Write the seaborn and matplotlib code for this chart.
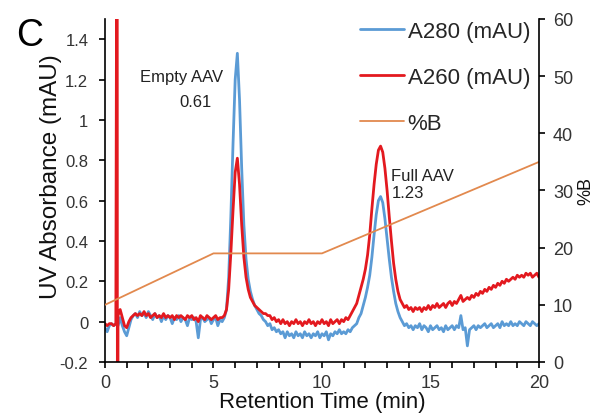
import numpy as np
import pandas as pd
import matplotlib
matplotlib.use("Agg")
import matplotlib.pyplot as plt
import seaborn as sns
from matplotlib.ticker import MultipleLocator, FixedLocator, FuncFormatter

sns.set_theme(style="ticks")
plt.rcParams["font.family"] = ["Liberation Sans", "DejaVu Sans"]

# ---- chromatogram data -------------------------------------------------
# detector samples every 0.1 min, 0 - 20 min
time_min = np.round(np.arange(0, 20.05, 0.1), 1)

a280 = [
    -0.03, -0.05, -0.02, -0.01, -0.02, -0.01, -0.02, 0.02, -0.02, -0.05,
    -0.07, -0.03, 0.01, 0.03, 0.04, 0.02, 0.05, 0.03, 0.04, 0.02,
    0.05, 0.03, 0.01, 0.04, 0.02, 0.03, 0.00, 0.03, 0.01, 0.03,
    0.02, -0.01, 0.02, 0.01, 0.03, 0.00, 0.02, 0.01, -0.02, 0.02,
    0.01, 0.02, 0.00, -0.08, 0.01, 0.02, 0.00, 0.01, 0.02, -0.01,
    0.01, 0.02, -0.02, 0.01, 0.00, 0.02, 0.06, 0.22, 0.52, 0.88,
    1.20, 1.33, 1.10, 0.76, 0.48, 0.31, 0.21, 0.15, 0.11, 0.08,
    0.06, 0.04, 0.03, 0.01, 0.00, -0.02, -0.01, -0.04, -0.03, -0.05,
    -0.04, -0.06, -0.05, -0.08, -0.05, -0.07, -0.06, -0.08, -0.05, -0.07,
    -0.06, -0.08, -0.05, -0.07, -0.06, -0.08, -0.06, -0.07, -0.05, -0.08,
    -0.06, -0.07, -0.05, -0.09, -0.06, -0.07, -0.05, -0.06, -0.04, -0.06,
    -0.05, -0.06, -0.04, -0.05, -0.03, -0.02, -0.01, 0.02, 0.04, 0.08,
    0.12, 0.17, 0.23, 0.32, 0.43, 0.53, 0.60, 0.62, 0.59, 0.51,
    0.41, 0.31, 0.22, 0.15, 0.09, 0.05, 0.02, 0.00, -0.02, -0.01,
    -0.03, -0.02, -0.04, -0.02, -0.03, -0.01, -0.04, -0.02, -0.03, -0.05,
    -0.02, -0.04, -0.03, -0.02, -0.04, -0.03, -0.05, -0.02, -0.04, -0.03,
    -0.02, -0.04, -0.02, -0.03, 0.03, -0.04, -0.03, -0.12, -0.04, -0.03,
    -0.02, -0.04, -0.02, -0.03, -0.02, -0.01, -0.03, -0.02, -0.01, -0.03,
    -0.02, -0.01, -0.03, 0.00, -0.02, -0.01, -0.02, 0.00, -0.02, -0.01,
    -0.02, 0.00, -0.01, -0.02, 0.00, -0.01, -0.02, 0.00, -0.01, -0.02,
    -0.01,
]

a260 = [
    -0.01, -0.02, -0.01, -0.01, -0.02, -0.01, 0.03, 0.06, 0.02, -0.02,
    -0.03, 0.00, 0.02, 0.03, 0.04, 0.03, 0.04, 0.03, 0.05, 0.03,
    0.04, 0.02, 0.03, 0.04, 0.02, 0.03, 0.02, 0.04, 0.02, 0.03,
    0.02, 0.03, 0.01, 0.03, 0.02, 0.03, 0.02, 0.01, 0.03, 0.02,
    0.03, 0.01, 0.02, 0.00, 0.03, 0.02, 0.01, 0.03, 0.02, 0.01,
    0.02, 0.03, 0.01, 0.02, 0.02, 0.03, 0.06, 0.16, 0.34, 0.55,
    0.74, 0.81, 0.68, 0.48, 0.32, 0.22, 0.16, 0.12, 0.10, 0.08,
    0.07, 0.06, 0.05, 0.04, 0.04, 0.03, 0.03, 0.01, 0.02, 0.00,
    0.01, -0.01, 0.01, -0.01, 0.00, -0.02, 0.00, -0.01, 0.01, -0.01,
    0.00, -0.02, 0.00, -0.01, 0.01, -0.01, 0.00, -0.02, 0.00, -0.01,
    0.01, -0.01, 0.00, -0.02, 0.01, -0.01, 0.00, 0.01, -0.01, 0.01,
    0.00, 0.02, 0.01, 0.03, 0.05, 0.07, 0.09, 0.13, 0.17, 0.21,
    0.26, 0.33, 0.43, 0.56, 0.68, 0.78, 0.85, 0.87, 0.84, 0.76,
    0.65, 0.52, 0.40, 0.29, 0.21, 0.15, 0.11, 0.09, 0.07, 0.08,
    0.06, 0.07, 0.05, 0.07, 0.06, 0.07, 0.05, 0.07, 0.06, 0.08,
    0.06, 0.08, 0.07, 0.09, 0.07, 0.08, 0.09, 0.07, 0.09, 0.10,
    0.08, 0.10, 0.09, 0.11, 0.13, 0.10, 0.11, 0.12, 0.11, 0.13,
    0.12, 0.14, 0.13, 0.15, 0.14, 0.16, 0.15, 0.17, 0.16, 0.18,
    0.17, 0.19, 0.18, 0.20, 0.19, 0.21, 0.20, 0.21, 0.22, 0.21,
    0.23, 0.22, 0.23, 0.22, 0.24, 0.23, 0.24, 0.22, 0.23, 0.24,
    0.22,
]

# injection artefact on the 260 nm channel (runs off-scale both ways)
spike_time = [0.56, 0.58]
spike_a260 = [3.0, -3.0]

# elution gradient, % buffer B
gradient_time = [0, 5, 10, 20]
gradient_pct_b = [10, 19, 19, 35]

# peak labels and their A260/A280 ratios
peak_names = ["Empty AAV", "Full AAV"]
peak_ratios = ["0.61", "1.23"]

# ---- styling -----------------------------------------------------------
BLUE = "#5b9bd5"
RED = "#e3191f"
ORANGE = "#e2894e"
TICK_COLOR = "#333333"

df280 = pd.DataFrame({"time": time_min, "abs": a280})
df260 = pd.concat(
    [pd.DataFrame({"time": time_min, "abs": a260}),
     pd.DataFrame({"time": spike_time, "abs": spike_a260})],
    ignore_index=True,
).sort_values("time")
dfgrad = pd.DataFrame({"time": gradient_time, "pctb": gradient_pct_b})

fig = plt.figure(figsize=(6.10, 4.14), dpi=100)
ax = fig.add_axes([0.1721, 0.1232, 0.7115, 0.8285])

sns.lineplot(data=df280, x="time", y="abs", ax=ax, color=BLUE, lw=2.0,
             estimator=None, sort=True, label="A280 (mAU)")
sns.lineplot(data=df260, x="time", y="abs", ax=ax, color=RED, lw=2.0,
             estimator=None, sort=True, label="A260 (mAU)")

ax2 = ax.twinx()
sns.lineplot(data=dfgrad, x="time", y="pctb", ax=ax2, color=ORANGE, lw=1.3,
             estimator=None, sort=True, label="%B")

for a in (ax, ax2):
    leg = a.get_legend()
    if leg is not None:
        leg.remove()

# left axis
ax.set_xlim(0, 20)
ax.set_ylim(-0.2, 1.5)
ax.yaxis.set_major_locator(FixedLocator(np.round(np.arange(-0.2, 1.41, 0.2), 1)))
ax.yaxis.set_major_formatter(FuncFormatter(lambda v, p: f"{v:g}"))
ax.xaxis.set_major_locator(MultipleLocator(5))
ax.xaxis.set_minor_locator(MultipleLocator(1))
ax.tick_params(axis="y", direction="out", length=4, width=1.2, pad=8,
               labelsize=12, colors="black", labelcolor=TICK_COLOR)
ax.tick_params(axis="x", which="both", direction="out", length=4, width=1.2,
               pad=5, labelsize=13, colors="black", labelcolor=TICK_COLOR)

ax.set_xlabel("Retention Time (min)", fontsize=16, color="#111111")
ax.xaxis.set_label_coords(0.5, -0.086)
ax.set_ylabel("UV Absorbance (mAU)", fontsize=17.5, color="#111111")
ax.yaxis.set_label_coords(-0.098, 0.544)

# right axis
ax2.set_ylim(0, 60)
ax2.yaxis.set_major_locator(MultipleLocator(10))
ax2.tick_params(axis="y", direction="out", length=4, width=1.2, pad=6,
                labelsize=13, colors="black", labelcolor=TICK_COLOR)
ax2.set_ylabel("%B", fontsize=13, color="#111111")
ax2.yaxis.set_label_coords(1.088, 0.5)

for a in (ax, ax2):
    a.spines["top"].set_visible(False)
    for s in ("left", "right", "bottom"):
        a.spines[s].set_linewidth(1.2)
        a.spines[s].set_color("black")
ax.spines["right"].set_visible(False)
ax2.spines["left"].set_visible(False)
ax2.spines["bottom"].set_visible(False)

# peak annotations
ax.text(3.55, 1.216, peak_names[0], fontsize=12, ha="center", va="center",
        color="#222222")
ax.text(4.15, 1.09, peak_ratios[0], fontsize=12, ha="center", va="center",
        color="#222222")
ax.text(13.2, 0.723, peak_names[1], fontsize=12, ha="left", va="center",
        color="#222222")
ax.text(13.2, 0.642, peak_ratios[1], fontsize=12, ha="left", va="center",
        color="#222222")

# panel letter
fig.text(0.049, 0.913, "C", fontsize=27, ha="center", va="center",
         color="black")

# combined legend
h1, l1 = ax.get_legend_handles_labels()
h2, l2 = ax2.get_legend_handles_labels()
fig.legend(h1 + h2, l1 + l2, loc="upper left",
           bbox_to_anchor=(0.590, 0.947), frameon=False, fontsize=16,
           handlelength=2.0, handletextpad=0.15, labelspacing=1.13,
           borderpad=0, borderaxespad=0)

fig.savefig("out.png", dpi=100, facecolor="white")
